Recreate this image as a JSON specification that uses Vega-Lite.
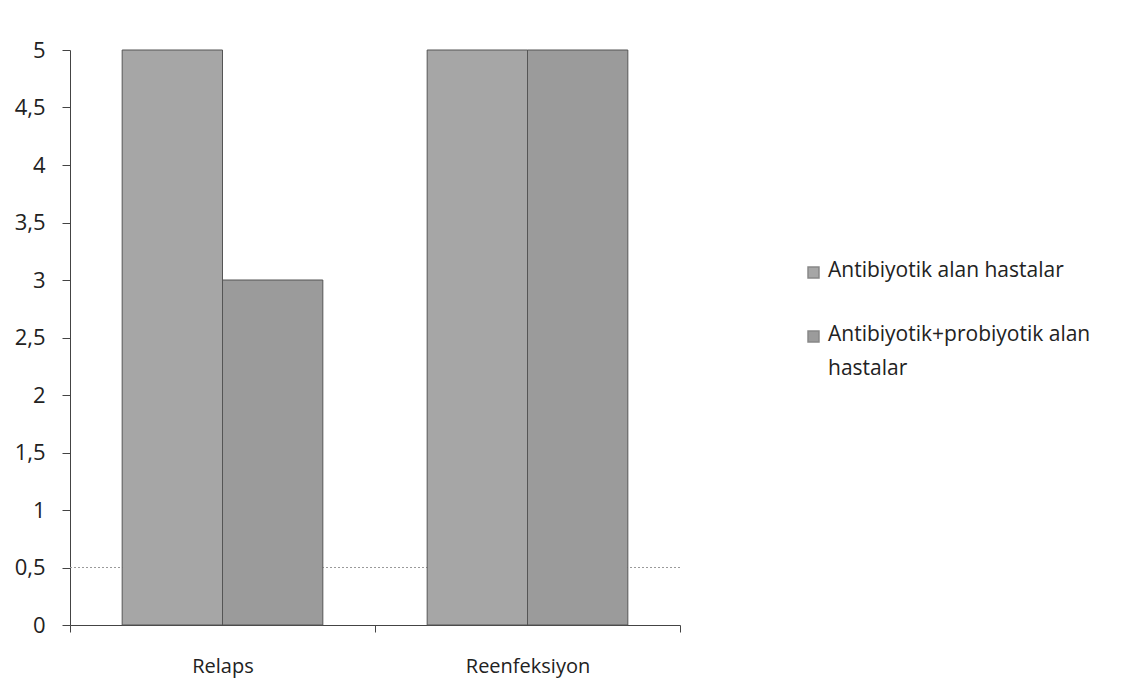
{
  "$schema": "https://vega.github.io/schema/vega-lite/v6.json",
  "autosize": "none",
  "width": 610,
  "height": 575,
  "padding": {"left": 70, "top": 50, "right": 450, "bottom": 58},
  "background": "white",
  "config": {"view": {"stroke": null}, "font": "Open Sans"},
  "data": {"values": [
    {"kategori": "Relaps", "grup": "Antibiyotik alan hastalar", "deger": 5},
    {"kategori": "Relaps", "grup": "Antibiyotik+probiyotik alan hastalar", "deger": 3},
    {"kategori": "Reenfeksiyon", "grup": "Antibiyotik alan hastalar", "deger": 5},
    {"kategori": "Reenfeksiyon", "grup": "Antibiyotik+probiyotik alan hastalar", "deger": 5}
  ]},
  "layer": [
    {
      "mark": {"type": "rule", "strokeDash": [2, 2], "color": "#9a9a9a", "strokeWidth": 1},
      "encoding": {"y": {"datum": 0.5, "type": "quantitative"}}
    },
    {
      "mark": {"type": "bar", "stroke": "#555555", "strokeWidth": 1},
      "encoding": {
        "x": {
          "field": "kategori", "type": "nominal", "sort": ["Relaps", "Reenfeksiyon"],
          "scale": {"paddingInner": 0, "paddingOuter": 0},
          "axis": {"title": null, "labelAngle": 0, "labelFontSize": 20, "labelColor": "#222222",
                   "labelPadding": 24, "tickBand": "extent", "tickSize": 7, "tickColor": "#444444",
                   "domainColor": "#444444", "labelFont": "Open Sans"}
        },
        "xOffset": {"field": "grup", "type": "nominal", "scale": {"paddingInner": 0, "paddingOuter": 0.52}},
        "y": {
          "field": "deger", "type": "quantitative",
          "scale": {"domain": [0, 5], "nice": false},
          "axis": {"title": null, "values": [0, 0.5, 1, 1.5, 2, 2.5, 3, 3.5, 4, 4.5, 5],
                   "labelExpr": "replace(toString(datum.value), '.', ',')",
                   "grid": false, "labelFontSize": 22, "labelColor": "#222222", "labelPadding": 17,
                   "tickSize": 8, "tickColor": "#444444", "domainColor": "#444444", "labelFont": "Open Sans"}
        },
        "color": {
          "field": "grup", "type": "nominal",
          "scale": {"range": ["#a6a6a6", "#9b9b9b"]},
          "legend": {
            "title": null, "orient": "none", "legendX": 733, "legendY": 212,
            "symbolType": "square", "symbolSize": 120, "symbolStrokeColor": "#888888",
            "labelFontSize": 21, "labelColor": "#222222", "labelLimit": 400, "rowPadding": 42,
            "labelFont": "Open Sans", "labelBaseline": "top", "labelOffset": 4,
            "labelExpr": "datum.label == 'Antibiyotik+probiyotik alan hastalar' ? ['Antibiyotik+probiyotik alan', 'hastalar'] : datum.label",
            "encode": {"labels": {"update": {"lineHeight": {"value": 34}, "dy": {"value": -13}}}}
          }
        }
      }
    }
  ]
}
